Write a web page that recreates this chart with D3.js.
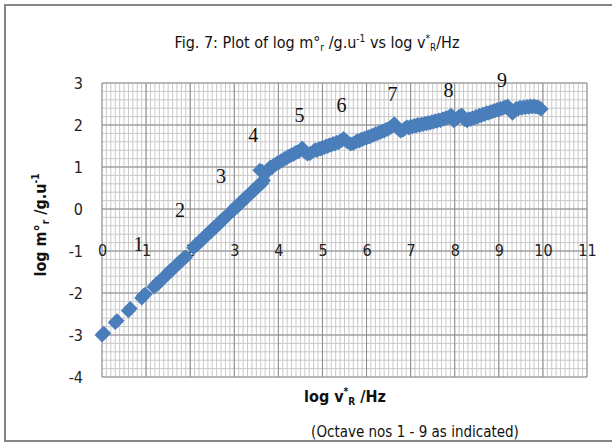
<!DOCTYPE html>
<html lang="en">
<head>
<meta charset="UTF-8">
<title>Fig. 7</title>
<script src="https://cdnjs.cloudflare.com/ajax/libs/d3/7.8.5/d3.min.js"></script>
<style>
  body { margin: 0; background: #fff; }
  .sans { font-family: "Liberation Sans Narrow", "DejaVu Sans Condensed", "Open Sans", sans-serif; }
</style>
</head>
<body>
<div id="chart"></div>
<script>
var w = 612, h = 446;

// log v*R (Hz) and log m°r (g.u-1)
var logV = [
  0.00, 0.04, 0.30, 0.34, 0.60, 0.64, 0.90, 0.94, 0.98,
  1.18, 1.22, 1.26, 1.30, 1.34, 1.38, 1.42, 1.46, 1.50, 1.54, 1.58, 1.62, 1.66, 1.70, 1.74, 1.78, 1.82, 1.86, 1.90,
  2.08, 2.12, 2.16, 2.20, 2.24, 2.28, 2.32, 2.36, 2.40, 2.44, 2.48, 2.52, 2.56, 2.60, 2.64, 2.68, 2.72, 2.76, 2.80,
  2.90, 2.94, 2.98, 3.02, 3.06, 3.10, 3.14, 3.18, 3.22, 3.26, 3.30, 3.34, 3.38, 3.42, 3.46, 3.50, 3.54, 3.58, 3.62, 3.66,
  3.58, 3.63, 3.70, 3.78, 3.82, 3.86, 3.90, 3.94, 3.98, 4.02, 4.06, 4.10, 4.14, 4.18, 4.22, 4.26, 4.30, 4.34, 4.38, 4.42, 4.46, 4.50, 4.54,
  4.60, 4.66, 4.72, 4.80, 4.84, 4.88, 4.92, 4.96, 5.00, 5.04, 5.08, 5.12, 5.16, 5.20, 5.24, 5.28, 5.32, 5.36, 5.40, 5.44, 5.48,
  5.56, 5.64, 5.70, 5.76, 5.80, 5.84, 5.88, 5.92, 5.96, 6.00, 6.04, 6.08, 6.12, 6.16, 6.20, 6.24, 6.28, 6.32, 6.36, 6.40, 6.44, 6.48, 6.52, 6.56, 6.60, 6.63,
  6.70, 6.77, 6.83, 6.88, 6.92, 6.96, 7.00, 7.04, 7.08, 7.12, 7.16, 7.20, 7.24, 7.28, 7.32, 7.36, 7.40, 7.44, 7.48, 7.52, 7.56, 7.60, 7.64, 7.68, 7.72, 7.76, 7.80, 7.84, 7.88, 7.92,
  7.98, 8.04, 8.10, 8.16, 8.22, 8.28, 8.32, 8.36, 8.40, 8.44, 8.48, 8.52, 8.56, 8.60, 8.64, 8.68, 8.72, 8.76, 8.80, 8.84, 8.88, 8.92, 8.96, 9.00, 9.04, 9.08, 9.12, 9.16, 9.20,
  9.26, 9.31, 9.36, 9.40, 9.44, 9.48, 9.52, 9.56, 9.60, 9.64, 9.68, 9.72, 9.76, 9.80, 9.84, 9.88, 9.92, 9.96
];
var logM = [
  -3.00, -2.96, -2.70, -2.66, -2.42, -2.37, -2.12, -2.06, -2.03,
  -1.86, -1.80, -1.79, -1.72, -1.70, -1.64, -1.62, -1.56, -1.54, -1.47, -1.46, -1.40, -1.38, -1.32, -1.30, -1.24, -1.22, -1.16, -1.14,
  -0.92, -0.86, -0.85, -0.78, -0.77, -0.70, -0.69, -0.62, -0.61, -0.54, -0.53, -0.46, -0.45, -0.38, -0.37, -0.30, -0.29, -0.22, -0.20,
  -0.10, -0.04, -0.03, 0.04, 0.05, 0.12, 0.13, 0.20, 0.21, 0.28, 0.29, 0.36, 0.37, 0.44, 0.45, 0.52, 0.53, 0.60, 0.61, 0.68,
  0.92, 0.90, 0.84, 0.95, 1.00, 0.99, 1.05, 1.06, 1.10, 1.11, 1.15, 1.16, 1.20, 1.21, 1.25, 1.26, 1.29, 1.30, 1.34, 1.35, 1.37, 1.40, 1.45,
  1.36, 1.31, 1.32, 1.38, 1.41, 1.39, 1.44, 1.43, 1.47, 1.46, 1.50, 1.49, 1.53, 1.52, 1.56, 1.55, 1.59, 1.58, 1.62, 1.63, 1.68,
  1.60, 1.55, 1.56, 1.60, 1.63, 1.62, 1.66, 1.66, 1.69, 1.69, 1.72, 1.72, 1.75, 1.76, 1.79, 1.79, 1.82, 1.83, 1.86, 1.86, 1.89, 1.90, 1.93, 1.95, 1.99, 2.03,
  1.93, 1.86, 1.88, 1.93, 1.95, 1.93, 1.97, 1.95, 1.99, 1.97, 2.01, 1.99, 2.02, 2.01, 2.04, 2.03, 2.06, 2.05, 2.08, 2.07, 2.10, 2.09, 2.12, 2.11, 2.14, 2.14, 2.17, 2.17, 2.20, 2.23,
  2.10, 2.15, 2.21, 2.24, 2.13, 2.10, 2.15, 2.13, 2.17, 2.16, 2.20, 2.19, 2.23, 2.22, 2.26, 2.25, 2.29, 2.28, 2.31, 2.31, 2.34, 2.34, 2.37, 2.36, 2.39, 2.39, 2.42, 2.42, 2.45,
  2.34, 2.28, 2.35, 2.40, 2.38, 2.42, 2.40, 2.43, 2.41, 2.44, 2.42, 2.45, 2.43, 2.45, 2.43, 2.43, 2.41, 2.38
];

// octave numbers and where they are written
var octaveNos = ["1", "2", "3", "4", "5", "6", "7", "8", "9"];
var octaveX = [0.83, 1.77, 2.70, 3.43, 4.48, 5.43, 6.59, 7.86, 9.07];
var octaveY = [-1.01, -0.18, 0.61, 1.59, 2.07, 2.31, 2.57, 2.67, 2.90];

var xTicks = [0, 1, 2, 3, 4, 5, 6, 7, 8, 9, 10, 11];
var yTicks = [3, 2, 1, 0, -1, -2, -3, -4];

var x = d3.scaleLinear().domain([0, 11]).range([102, 587]);
var y = d3.scaleLinear().domain([-4, 3]).range([377, 83]);

var svg = d3.select("#chart").append("svg")
    .attr("width", w)
    .attr("height", h);

// chart frame (no right edge visible)
svg.append("path")
    .attr("d", "M612,5 H5 V441 H612")
    .attr("fill", "none")
    .attr("stroke", "#858585")
    .attr("stroke-width", 2);

// minor grid
svg.append("g").selectAll("line")
    .data(x.ticks(110))
    .join("line")
    .attr("x1", d => x(d)).attr("x2", d => x(d))
    .attr("y1", y(3)).attr("y2", y(-4))
    .attr("stroke", "#c9c9c9").attr("stroke-width", 1);
svg.append("g").selectAll("line")
    .data(y.ticks(35))
    .join("line")
    .attr("x1", x(0)).attr("x2", x(11))
    .attr("y1", d => y(d)).attr("y2", d => y(d))
    .attr("stroke", "#c9c9c9").attr("stroke-width", 1);

// major grid
svg.append("g").selectAll("line")
    .data(xTicks)
    .join("line")
    .attr("x1", d => x(d)).attr("x2", d => x(d))
    .attr("y1", y(3)).attr("y2", y(-4))
    .attr("stroke", "#8c8c8c").attr("stroke-width", 1);
svg.append("g").selectAll("line")
    .data(yTicks)
    .join("line")
    .attr("x1", x(0)).attr("x2", x(11))
    .attr("y1", d => y(d)).attr("y2", d => y(d))
    .attr("stroke", "#8c8c8c").attr("stroke-width", 1);

// tick labels (plain hyphen for negatives, like the original)
var xAxis = svg.append("g")
    .attr("class", "sans")
    .attr("transform", "translate(0," + y(-1) + ")")
    .call(d3.axisBottom(x).tickValues(xTicks).tickSize(0).tickFormat(d => String(d)));
xAxis.select(".domain").remove();
xAxis.selectAll("text")
    .attr("y", -1).attr("dy", "0.35em")
    .attr("font-size", 16).attr("fill", "#222")
    .style("font-family", "inherit");

var yAxis = svg.append("g")
    .attr("class", "sans")
    .attr("transform", "translate(" + x(0) + ",0)")
    .call(d3.axisLeft(y).tickValues(yTicks).tickSize(0).tickPadding(19).tickFormat(d => String(d)));
yAxis.select(".domain").remove();
yAxis.selectAll("text")
    .attr("dy", "0.35em")
    .attr("font-size", 16).attr("fill", "#222")
    .style("font-family", "inherit");

// data: diamonds
var r = 7.5;
svg.append("g").selectAll("path")
    .data(logV)
    .join("path")
    .attr("d", "M0," + (-r) + "L" + r + ",0L0," + r + "L" + (-r) + ",0Z")
    .attr("transform", (d, i) => "translate(" + x(d) + "," + y(logM[i]) + ")")
    .attr("fill", "#4a7ebb");

// octave numbers
svg.append("g").selectAll("text")
    .data(octaveNos)
    .join("text")
    .attr("x", (d, i) => x(octaveX[i]))
    .attr("y", (d, i) => y(octaveY[i]))
    .attr("text-anchor", "middle")
    .attr("font-family", "'Liberation Serif', 'Times New Roman', serif")
    .attr("font-size", 20)
    .attr("fill", "#111")
    .text(d => d);

// title
var title = svg.append("text")
    .attr("class", "sans")
    .attr("x", 317).attr("y", 48)
    .attr("text-anchor", "middle")
    .attr("font-size", 16)
    .attr("fill", "#111");
title.append("tspan").text("Fig. 7: Plot of log m°");
title.append("tspan").attr("font-size", 10).attr("dy", 3).text("r");
title.append("tspan").attr("dy", -3).text(" /g.u");
title.append("tspan").attr("font-size", 10).attr("dy", -6).text("-1");
title.append("tspan").attr("dy", 6).text(" vs log v");
title.append("tspan").attr("font-size", 10).attr("dy", -6).text("*");
title.append("tspan").attr("font-size", 10).attr("dy", 9).text("R");
title.append("tspan").attr("dy", -3).text("/Hz");

// y axis title
var yTitle = svg.append("text")
    .attr("class", "sans")
    .attr("transform", "translate(46,225) rotate(-90)")
    .attr("text-anchor", "middle")
    .attr("font-size", 16)
    .attr("font-weight", "bold")
    .attr("fill", "#111");
yTitle.append("tspan").text("log m°");
yTitle.append("tspan").attr("font-size", 10).attr("dy", 3).text("r");
yTitle.append("tspan").attr("dy", -3).text(" /g.u");
yTitle.append("tspan").attr("font-size", 10).attr("dy", -7).text("-1");

// x axis title
var xTitle = svg.append("text")
    .attr("class", "sans")
    .attr("x", 345).attr("y", 402)
    .attr("text-anchor", "middle")
    .attr("font-size", 16)
    .attr("font-weight", "bold")
    .attr("fill", "#111");
xTitle.append("tspan").text("log v");
xTitle.append("tspan").attr("font-size", 10).attr("dy", -7).text("*");
xTitle.append("tspan").attr("font-size", 10).attr("dy", 10).text("R");
xTitle.append("tspan").attr("dy", -3).text(" /Hz");

// note
svg.append("text")
    .attr("class", "sans")
    .attr("x", 415).attr("y", 437)
    .attr("text-anchor", "middle")
    .attr("font-size", 15)
    .attr("fill", "#111")
    .text("(Octave nos 1 - 9 as indicated)");
</script>
</body>
</html>
